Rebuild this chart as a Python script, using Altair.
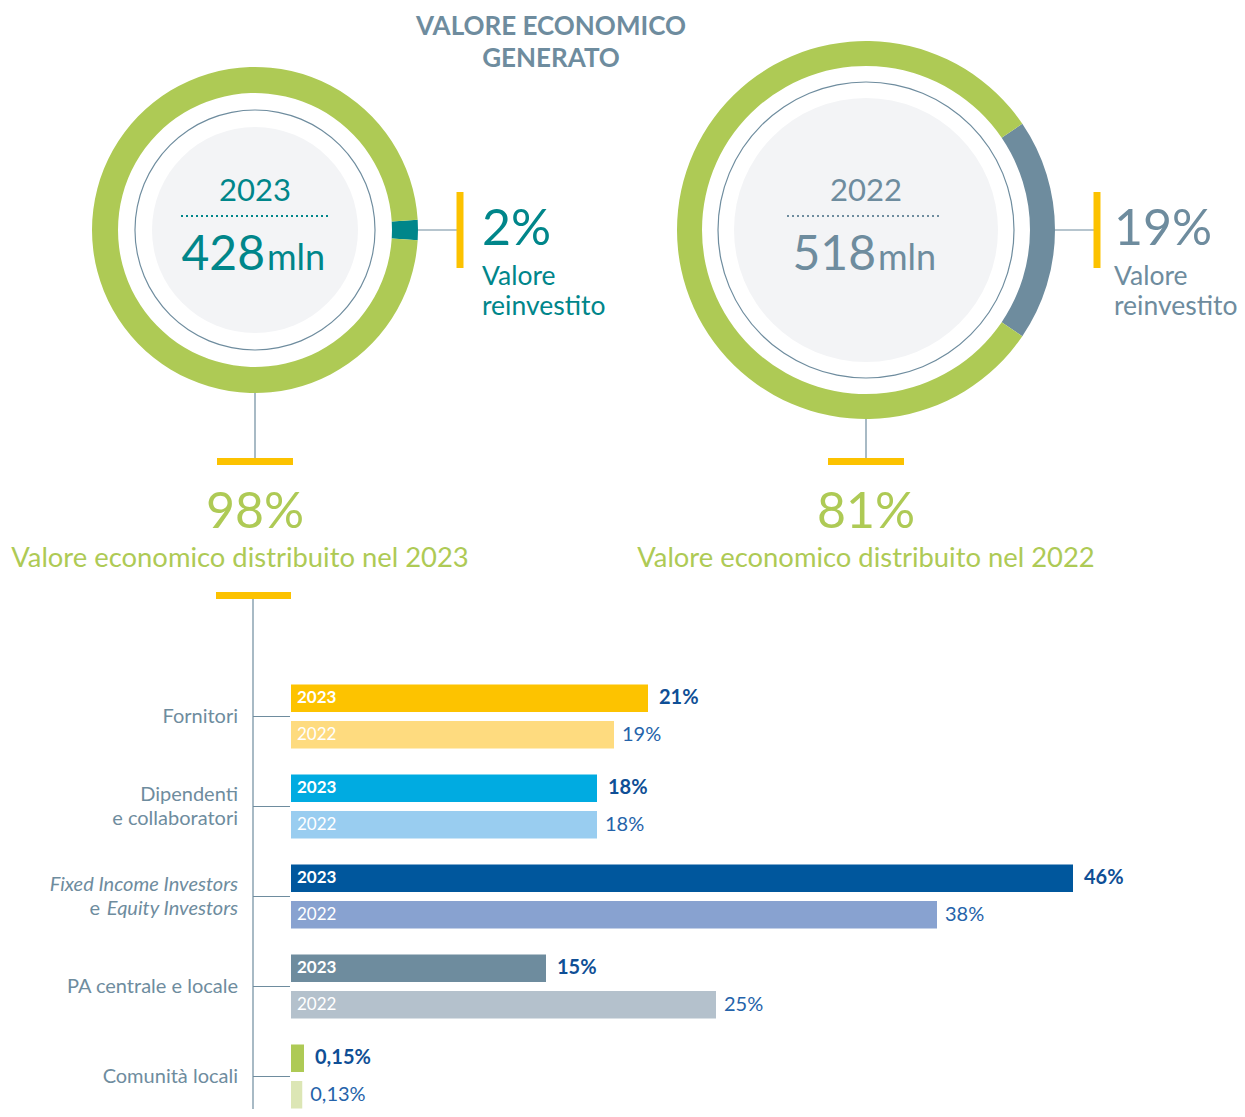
import math
import altair as alt
import pandas as pd

# ---------------- data ----------------
years = ["2023", "2022"]
generated_mln = [428, 518]
reinvested_pct = [2, 19]
distributed_pct = [98, 81]

category_keys = [
    "Fornitori",
    "Dipendenti e collaboratori",
    "Fixed Income Investors e Equity Investors",
    "PA centrale e locale",
    "Comunità locali",
]
category_labels = [
    "Fornitori",
    "Dipendenti\ne collaboratori",
    "Fixed Income Investors\ne Equity Investors",
    "PA centrale e locale",
    "Comunità locali",
]
share_2023 = [21, 18, 46, 15, 0.15]
share_2022 = [19, 18, 38, 25, 0.13]
label_2023 = ["21%", "18%", "46%", "15%", "0,15%"]
label_2022 = ["19%", "18%", "38%", "25%", "0,13%"]

# ---------------- styles ----------------
colors_2023 = ["#fdc300", "#00abe1", "#00579d", "#6e8c9e", "#aeca55"]
colors_2022 = ["#fedb7f", "#99cdf0", "#88a2d0", "#b4c1cc", "#dce6b5"]
GREEN = "#aeca55"
TEAL = "#00868a"
SLATE = "#6e8c9e"
YELLOW = "#fcc200"
FILL = "#f3f4f6"
FONT = "Lato"
W, H = 1229, 1101

dummy = pd.DataFrame({"d": [0]})


def txt(text, x, y, size, color, align="left", baseline="alphabetic", weight="normal", style="normal"):
    return alt.Chart(pd.DataFrame({"t": [text]})).mark_text(
        align=align, baseline=baseline, fontSize=size, color=color, font=FONT,
        fontWeight=weight, fontStyle=style
    ).encode(x=alt.value(x), y=alt.value(y), text="t:N")


def hrule(x1, x2, y, color, width=1.2, dash=None):
    kw = dict(color=color, strokeWidth=width)
    if dash:
        kw["strokeDash"] = dash
    return alt.Chart(dummy).mark_rule(**kw).encode(
        x=alt.value(x1), x2=alt.value(x2), y=alt.value(y))


def vrule(x, y1, y2, color, width=1.2):
    return alt.Chart(dummy).mark_rule(color=color, strokeWidth=width).encode(
        x=alt.value(x), y=alt.value(y1), y2=alt.value(y2))


def circle(cx, cy, r_in, r_out, color):
    return alt.Chart(dummy).mark_arc(innerRadius=r_in, outerRadius=r_out, color=color).encode(
        x=alt.value(cx), y=alt.value(cy), theta=alt.value(0), theta2=alt.value(2 * math.pi))


def donut(i, cx, cy, r_in, r_out, accent):
    df = pd.DataFrame({
        "part": ["reinvestito", "distribuito"],
        "pct": [reinvested_pct[i], distributed_pct[i]],
        "ord": [0, 1],
    })
    start = math.pi / 2 - reinvested_pct[i] / 100 * math.pi
    return alt.Chart(df).mark_arc(innerRadius=r_in, outerRadius=r_out).encode(
        x=alt.value(cx), y=alt.value(cy),
        theta=alt.Theta("pct:Q", stack=True,
                        scale=alt.Scale(domain=[0, 100], range=[start, start + 2 * math.pi])),
        order=alt.Order("ord:Q"),
        color=alt.Color("part:N", scale=alt.Scale(domain=["reinvestito", "distribuito"],
                                                  range=[accent, GREEN]), legend=None),
    )


layers = []

# title
layers.append(txt("VALORE ECONOMICO", 543, 19, 26, SLATE, align="center", baseline="middle", weight="bold"))
layers.append(txt("GENERATO", 543, 51, 26, SLATE, align="center", baseline="middle", weight="bold"))

# donut specs
specs = [
    # i, cx, cy, inner, outer, thin r, fill r, accent, text colour, dots x1, dots x2, annot x, caption cx
    (0, 247, 222, 137, 163, 120, 103, TEAL, TEAL, 173, 321, 474, 232),
    (1, 858, 222, 164, 189, 148, 132, SLATE, SLATE, 779, 934, 1106, 858),
]
for i, cx, cy, rin, rout, rthin, rfill, accent, tcol, dx1, dx2, tx, capx in specs:
    layers.append(circle(cx, cy, 0, rfill, FILL))
    layers.append(circle(cx, cy, rthin - 0.6, rthin + 0.6, SLATE))
    layers.append(donut(i, cx, cy, rin, rout, accent))
    layers.append(txt(years[i], cx, 193, 31, tcol, align="center"))
    layers.append(hrule(dx1, dx2, cy - 14, tcol, width=2.2, dash=[2, 3]))
    layers.append(txt(str(generated_mln[i]), cx + 10, 262, 48, tcol, align="right"))
    layers.append(txt("mln", cx + 12, 262, 36, tcol, align="left"))
    # reinvested annotation
    layers.append(hrule(cx + rout, cx + rout + 41, cy, SLATE, width=1.2))
    layers.append(vrule(cx + rout + 42, cy - 38, cy + 38, YELLOW, width=7))
    layers.append(txt(f"{reinvested_pct[i]}%", tx, 237, 50, tcol))
    layers.append(txt("Valore", tx, 277, 26.5, tcol))
    layers.append(txt("reinvestito", tx, 307, 26.5, tcol))
    # distributed annotation
    layers.append(vrule(cx, cy + rout, 451, SLATE, width=1.2))
    layers.append(hrule(cx - 38, cx + 38, 453.5, YELLOW, width=7))
    layers.append(txt(f"{distributed_pct[i]}%", cx, 520, 50, GREEN, align="center"))
    layers.append(txt(f"Valore economico distribuito nel {years[i]}", capx, 559, 27.4, GREEN, align="center"))

# connector to bars
layers.append(hrule(208, 283, 587.5, YELLOW, width=7))
layers.append(vrule(245, 591, H, SLATE, width=1.2))

# ---------------- bars ----------------
rows = []
for c, k in enumerate(category_keys):
    rows.append({"cat": k, "year": "2023", "value": share_2023[c], "label": label_2023[c],
                 "key": k + "|2023", "main": c < 4})
    rows.append({"cat": k, "year": "2022", "value": share_2022[c], "label": label_2022[c],
                 "key": k + "|2022", "main": c < 4})
bars_df = pd.DataFrame(rows)
keys = [r["key"] for r in rows]
key_colors = []
for c in range(len(category_keys)):
    key_colors += [colors_2023[c], colors_2022[c]]

Y = alt.Y("cat:N", scale=alt.Scale(domain=category_keys, range=[663.5, 1113.5],
                                   paddingInner=0, paddingOuter=0), axis=None)
YO = alt.YOffset("year:N", scale=alt.Scale(domain=years, paddingInner=0.2466, paddingOuter=0.356))
COL = alt.Color("key:N", scale=alt.Scale(domain=keys, range=key_colors), legend=None)


def bar_group(df, xscale, year_labels):
    X = alt.X("value:Q", scale=xscale, axis=None)
    base = alt.Chart(df)
    parts = [
        base.mark_bar().encode(x=X, y=Y, yOffset=YO, color=COL),
        base.transform_filter("datum.year == '2023'").mark_text(
            align="left", baseline="middle", dx=11, fontSize=20, font=FONT, fontWeight="bold",
            color="#0f4f96").encode(x=X, y=Y, yOffset=YO, text="label:N"),
        base.transform_filter("datum.year == '2022'").mark_text(
            align="left", baseline="middle", dx=8, fontSize=20, font=FONT,
            color="#2563aa").encode(x=X, y=Y, yOffset=YO, text="label:N"),
    ]
    if year_labels:
        parts.append(base.transform_filter("datum.year == '2023'").mark_text(
            align="left", baseline="middle", fontSize=17, font=FONT, fontWeight="bold",
            color="white").encode(x=alt.value(289), y=Y, yOffset=YO, text="year:N"))
        parts.append(base.transform_filter("datum.year == '2022'").mark_text(
            align="left", baseline="middle", fontSize=17, font=FONT,
            color="white").encode(x=alt.value(289), y=Y, yOffset=YO, text="year:N"))
    return alt.layer(*parts)


main_bars = bar_group(bars_df[bars_df["main"]],
                      alt.Scale(domain=[0, 46], range=[283, 283 + 46 * 17.0], nice=False), True)
small_bars = bar_group(bars_df[~bars_df["main"]],
                       alt.Scale(domain=[0, 0.15], range=[283, 296], nice=False), False)
layers.append(main_bars)
layers.append(small_bars)

# category ticks & labels
cat_df = pd.DataFrame({"cat": category_keys, "label": category_labels,
                       "italic": [False, False, True, False, False],
                       "lines": [1, 2, 2, 1, 1]})
cat_base = alt.Chart(cat_df)
layers.append(cat_base.mark_rule(color=SLATE, strokeWidth=1.2).encode(
    x=alt.value(245), x2=alt.value(282), y=Y))
layers.append(cat_base.transform_filter("!datum.italic && datum.lines == 1").mark_text(
    align="right", baseline="middle", fontSize=20, font=FONT, color=SLATE).encode(
    x=alt.value(230), y=Y, text="label:N"))
layers.append(cat_base.transform_filter("!datum.italic && datum.lines == 2").mark_text(
    align="right", baseline="middle", fontSize=20, font=FONT, color=SLATE,
    lineBreak="\n", lineHeight=24, dy=-12).encode(
    x=alt.value(230), y=Y, text="label:N"))
# mixed-style label for investors
inv = cat_base.transform_filter("datum.italic")
layers.append(inv.mark_text(align="right", baseline="middle", fontSize=20, font=FONT,
                            fontStyle="italic", color=SLATE, dy=-12).encode(
    x=alt.value(230), y=Y, text=alt.value("Fixed Income Investors")))
layers.append(inv.mark_text(align="right", baseline="middle", fontSize=20, font=FONT,
                            fontStyle="italic", color=SLATE, dy=12).encode(
    x=alt.value(230), y=Y, text=alt.value("Equity Investors")))
layers.append(inv.mark_text(align="right", baseline="middle", fontSize=20, font=FONT,
                            color=SLATE, dy=12).encode(
    x=alt.value(92), y=Y, text=alt.value("e")))

chart = alt.layer(*layers).resolve_scale(
    x="independent", y="independent", color="independent", theta="independent"
).properties(
    width=W, height=H, padding=0, autosize="none", background="white"
).configure_view(stroke=None)

chart.save("out.html", embed_options={"renderer": "svg", "actions": False})
